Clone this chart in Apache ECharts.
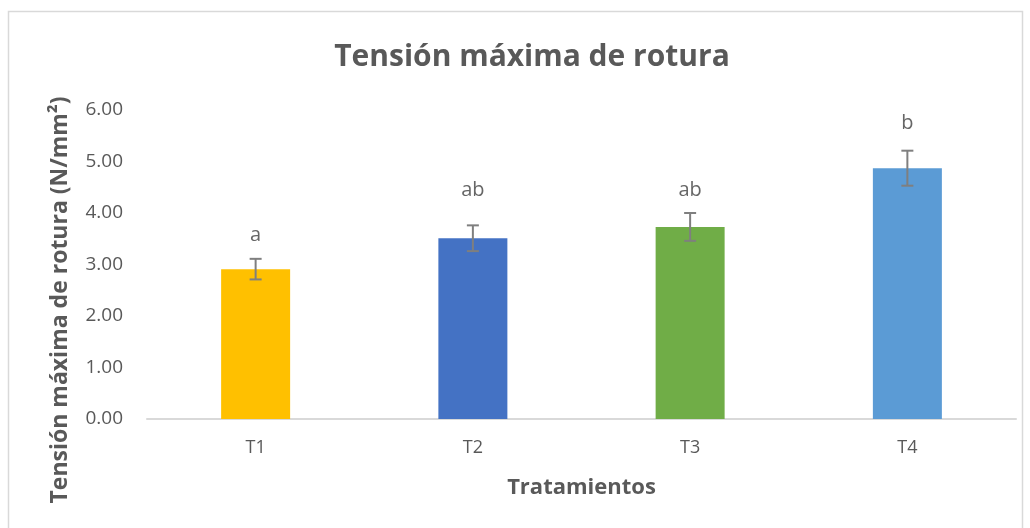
<!DOCTYPE html>
<html>
<head>
<meta charset="utf-8">
<script src="https://cdn.jsdelivr.net/npm/echarts@6/dist/echarts.min.js"></script>
<style>
  html, body { margin: 0; padding: 0; background: #fff; }
  #chart { width: 1030px; height: 528px; }
</style>
</head>
<body>
<div id="chart"></div>
<script>
// data
const categories = ['T1', 'T2', 'T3', 'T4'];
const means = [2.91, 3.51, 3.73, 4.87];
const errors = [0.20, 0.25, 0.27, 0.34];
const letters = ['a', 'ab', 'ab', 'b'];
const letterPos = [3.57, 4.45, 4.45, 5.75];
const yTicks = [0, 1, 2, 3, 4, 5, 6];

const barColors = ['#FFC000', '#4472C4', '#70AD47', '#5B9BD5'];
const font = '"Open Sans", "Noto Sans", sans-serif';

const chart = echarts.init(document.getElementById('chart'));

chart.setOption({
  backgroundColor: '#fff',
  animation: false,
  textStyle: { fontFamily: font },
  title: {
    text: 'Tensión máxima de rotura',
    left: 527,
    top: 37,
    textAlign: 'center',
    textStyle: { fontSize: 30, fontWeight: 'bold', color: '#595959', fontFamily: font }
  },
  graphic: [
    {
      type: 'rect',
      shape: { x: 8.5, y: 11.5, width: 1014, height: 540 },
      style: { fill: 'none', stroke: '#d9d9d9', lineWidth: 1.5 },
      silent: true
    },
    {
      type: 'text',
      x: 60,
      y: 300,
      rotation: Math.PI / 2,
      style: {
        text: 'Tensión máxima de rotura (N/mm²)',
        fontSize: 23,
        fontWeight: 'bold',
        fill: '#595959',
        fontFamily: font,
        align: 'center',
        verticalAlign: 'middle'
      }
    }
  ],
  grid: { left: 147, right: 14, top: 110, bottom: 109 },
  xAxis: {
    type: 'category',
    data: categories,
    name: 'Tratamientos',
    nameLocation: 'middle',
    nameGap: 58,
    nameTextStyle: { fontSize: 22, fontWeight: 'bold', color: '#595959' },
    axisLine: { lineStyle: { color: '#d9d9d9', width: 2 } },
    axisTick: { show: false },
    axisLabel: { fontSize: 18, color: '#595959', margin: 20 }
  },
  yAxis: {
    type: 'value',
    min: yTicks[0],
    max: yTicks[yTicks.length - 1],
    interval: 1,
    axisLine: { show: false },
    axisTick: { show: false },
    splitLine: { show: false },
    axisLabel: {
      fontSize: 19,
      color: '#595959',
      margin: 24,
      formatter: v => v.toFixed(2)
    }
  },
  series: [
    {
      type: 'bar',
      barWidth: 69,
      data: means.map((v, i) => ({ value: v, itemStyle: { color: barColors[i] } }))
    },
    {
      type: 'custom',
      z: 5,
      data: means.map((v, i) => [i, v - errors[i], v + errors[i]]),
      renderItem: (params, api) => {
        const lo = api.coord([api.value(0), api.value(1)]);
        const hi = api.coord([api.value(0), api.value(2)]);
        const w = 6;
        const st = { stroke: '#7f7f7f', lineWidth: 2 };
        return {
          type: 'group',
          children: [
            { type: 'line', shape: { x1: hi[0], y1: hi[1], x2: lo[0], y2: lo[1] }, style: st },
            { type: 'line', shape: { x1: hi[0] - w, y1: hi[1], x2: hi[0] + w, y2: hi[1] }, style: st },
            { type: 'line', shape: { x1: lo[0] - w, y1: lo[1], x2: lo[0] + w, y2: lo[1] }, style: st }
          ]
        };
      }
    },
    {
      type: 'scatter',
      symbolSize: 0,
      data: letterPos.map((v, i) => ({ value: [i, v], name: letters[i] })),
      label: {
        show: true,
        position: 'inside',
        formatter: p => p.name,
        fontSize: 20,
        color: '#404040',
        fontFamily: font
      }
    }
  ]
});
</script>
</body>
</html>
